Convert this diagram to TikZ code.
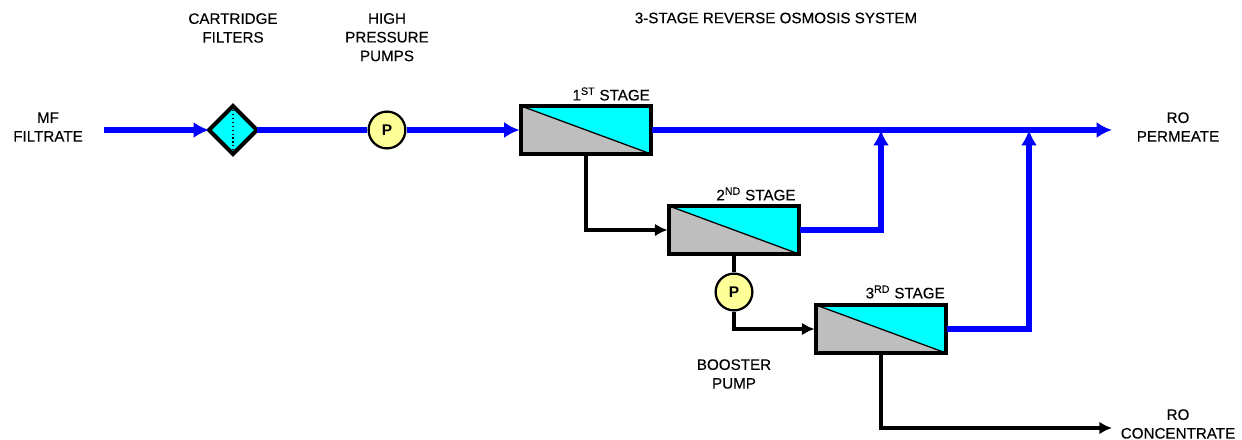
\documentclass[tikz,border=0pt]{standalone}
\usepackage{fontspec}
\setmainfont{Liberation Sans}
\usetikzlibrary{arrows.meta,shapes.geometric,calc}
\definecolor{flowblue}{RGB}{0,0,255}
\definecolor{membcyan}{RGB}{0,255,255}
\definecolor{membgray}{RGB}{190,190,190}
\definecolor{pumpyellow}{RGB}{255,255,153}
\tikzset{
    lbl/.style={align=center,inner sep=0pt,font=\fontsize{10.8}{13.3}\selectfont\addfontfeature{FakeBold=0.25}},
    blueflow/.style={draw=flowblue,line width=3.6pt},
    blackflow/.style={draw=black,line width=2.4pt},
    bluetip/.style={-{Latex[length=11pt,width=11.5pt]}},
    blacktip/.style={-{Latex[length=9pt,width=9pt]}},
    stagebox/.style={draw,line width=2.9pt,minimum width=3.25cm,minimum height=1.2cm,inner sep=0pt,outer sep=1pt,
        path picture={
            \fill[membcyan] (path picture bounding box.south west) rectangle (path picture bounding box.north east);
            \fill[membgray] (path picture bounding box.north west) -- (path picture bounding box.south east) -- (path picture bounding box.south west) -- cycle;
            \draw[line width=0.9pt] (path picture bounding box.north west) -- (path picture bounding box.south east);
        }},
    pumpnode/.style={circle,draw,line width=1.6pt,fill=pumpyellow,minimum size=0.92cm,inner sep=0pt,font=\fontsize{11}{13}\selectfont\bfseries},
    filternode/.style={diamond,draw,line width=2.9pt,fill=membcyan,minimum size=1.2cm,inner sep=0pt,outer sep=0pt}
}
\begin{document}
\begin{tikzpicture}
    \useasboundingbox (0,0) rectangle (31.05,11);
    % equipment
    \coordinate (feed) at (2.6,7.75);
    \node[filternode] (filter) at (5.825,7.75) {};
    \node[pumpnode] (hppump) at (9.675,7.75) {P};
    \node[stagebox] (stage1) at (14.65,7.75) {};
    \node[stagebox] (stage2) at (18.35,5.25) {};
    \node[stagebox] (stage3) at (22.025,2.775) {};
    \node[pumpnode] (boost) at (18.35,3.7) {P};
    \coordinate (permeate) at (27.8,7.75);
    \coordinate (concentrate) at (27.8,0.3);
    \coordinate (join2) at (22.025,7.75);
    \coordinate (join3) at (25.725,7.75);
    % blue lines
    \draw[blueflow,bluetip] (feed) -- (filter);
    \draw[blueflow] (filter) -- (hppump);
    \draw[blueflow,bluetip] (hppump) -- (stage1);
    \draw[blueflow,bluetip] (stage1) -- (permeate);
    \draw[blueflow,bluetip] (stage2) -| (join2);
    \draw[blueflow,bluetip] (stage3) -| (join3);
    \draw[dotted,line width=0.8pt] (filter.north) -- (filter.south);
    % black lines
    \draw[blackflow,blacktip] (stage1) |- (stage2);
    \draw[blackflow] (stage2) -- (boost);
    \draw[blackflow,blacktip] (boost) |- (stage3);
    \draw[blackflow,blacktip] (stage3) |- (concentrate);
    % labels
    \node[lbl] (lblfeed) at (1.2,7.825) {MF\\FILTRATE};
    \node[lbl] (lblfilter) at (5.825,10.3) {CARTRIDGE\\FILTERS};
    \node[lbl] (lblhp) at (9.675,10.07) {HIGH\\PRESSURE\\PUMPS};
    \node[lbl] (lbltitle) at (19.4,10.55) {3-STAGE REVERSE OSMOSIS SYSTEM};
    \node[lbl] (lblst1) at (15.28,8.65) {1\textsuperscript{ST} STAGE};
    \node[lbl] (lblst2) at (18.9,6.15) {2\textsuperscript{ND} STAGE};
    \node[lbl] (lblst3) at (22.63,3.7) {3\textsuperscript{RD} STAGE};
    \node[lbl] (lblboost) at (18.35,1.65) {BOOSTER\\PUMP};
    \node[lbl] (lblperm) at (29.45,7.825) {RO\\PERMEATE};
    \node[lbl] (lblconc) at (29.45,0.4) {RO\\CONCENTRATE};
\end{tikzpicture}
\end{document}
